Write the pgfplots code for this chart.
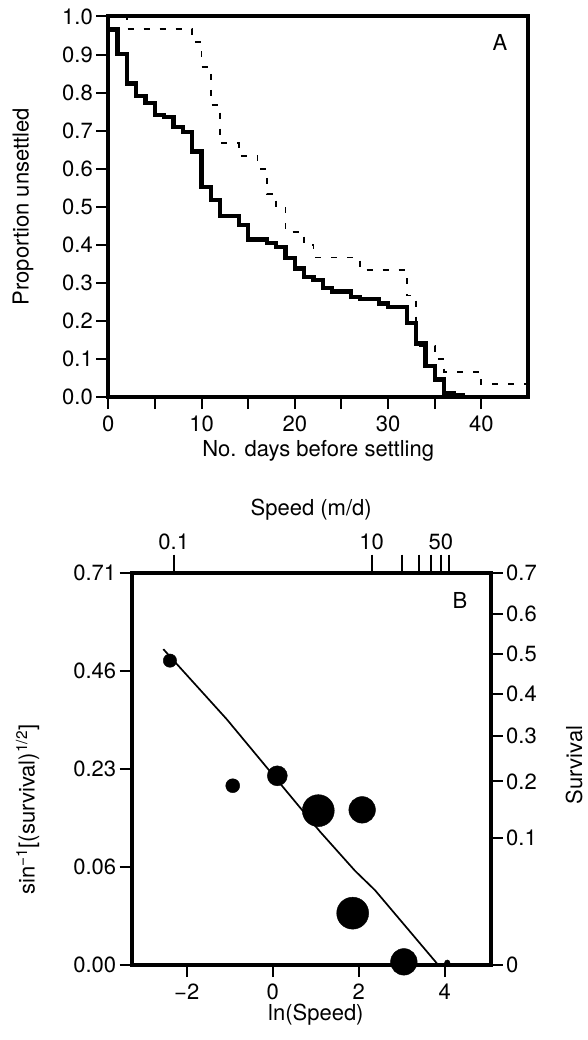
\documentclass[border=0pt]{standalone}
\usepackage{fontspec}
\setmainfont{TeX Gyre Heros}
\usepackage{pgfplots}
\pgfplotsset{compat=1.18}
\pgfplotsset{
  panel/.style={
    scale only axis,
    font=\fontsize{22}{26}\selectfont,
    tick label style={font=\fontsize{22}{26}\selectfont},
    label style={font=\fontsize{22}{26}\selectfont},
    axis line style={line width=4pt},
    tick style={line width=2pt, black},
    tick align=outside,
    major tick length=12pt,
  }
}
\begin{document}
\begin{tikzpicture}
\useasboundingbox (0pt,0pt) rectangle (588pt,-1040pt);
% ---------------- Panel A ----------------
\begin{axis}[panel,
  at={(108.3pt,-16.5pt)}, anchor=north west,
  width=419.7pt, height=380.5pt,
  xmin=0, xmax=45, ymin=0, ymax=1,
  xtick={0,5,10,15,20,25,30,35,40},
  xticklabels={0,,10,,20,,30,,40},
  ytick={0,0.1,0.2,0.3,0.4,0.5,0.6,0.7,0.8,0.9,1},
  yticklabels={0.0,0.1,0.2,0.3,0.4,0.5,0.6,0.7,0.8,0.9,1.0},
  xtick pos=left, ytick pos=left,
  xticklabel style={yshift=-3pt},
  xlabel={No. days before settling},
  ylabel={Proportion unsettled},
  xlabel style={at={(axis description cs:0.5,-0.142)}, anchor=center},
  ylabel style={at={(axis description cs:-0.203,0.5)}, anchor=center},
]
\addplot[const plot, black, line width=1.8pt, dash pattern=on 6pt off 10pt] coordinates {
(0,1) (2,0.9667) (9,0.9333) (10,0.8667) (11,0.7667) (12,0.6667) (14,0.6333)
(16,0.6) (17,0.5333) (18,0.5) (19,0.4333) (21,0.4) (22,0.3667) (27,0.3333)
(32,0.2667) (33,0.1333) (35,0.1) (36,0.0667) (40,0.0333) (45,0.0333)};
\addplot[const plot, black, line width=4.3pt] coordinates {
(0,0.966) (1,0.901) (2,0.824) (3,0.791) (4,0.772) (5,0.741) (6,0.735) (7,0.710)
(8,0.696) (9,0.645) (10,0.551) (11,0.518) (12,0.476) (14,0.452) (15,0.414)
(17,0.405) (18,0.395) (19,0.366) (20,0.338) (21,0.315) (22,0.307) (23,0.286)
(24,0.277) (26,0.262) (27,0.257) (29,0.246) (30,0.237) (32,0.194) (33,0.141)
(34,0.082) (35,0.046) (36,0.010) (37,0.004) (38,0)};
\node[font=\fontsize{22}{26}\selectfont] at (axis description cs:0.933,0.933) {A};
\end{axis}
% ---------------- Panel B (top & right axes) ----------------
\begin{axis}[panel,
  at={(131.7pt,-572.7pt)}, anchor=north west,
  width=359pt, height=392.3pt,
  xmin=-3.28, xmax=5.07, ymin=0, ymax=0.99116,
  xtick={-2.302585,2.302585,2.995732,3.401197,3.688879,3.912023,4.094345},
  xticklabels={0.1,10,,,,50,},
  ytick={0,0.32175,0.46365,0.57964,0.68472,0.78540,0.88608,0.99116},
  yticklabels={0,0.1,0.2,0.3,0.4,0.5,0.6,0.7},
  xtick pos=right, ytick pos=right,
  xticklabel pos=right, yticklabel pos=right,
  x tick style={line width=2pt, black, /pgfplots/major tick length=18pt},
  xticklabel style={yshift=7pt},
  xlabel={Speed (m/d)},
  ylabel={Survival},
  xlabel style={at={(axis description cs:0.5,1.16)}, anchor=center},
  ylabel style={at={(axis description cs:1.232,0.51)}, anchor=center},
]
\end{axis}
% ---------------- Panel B (main) ----------------
\begin{axis}[panel,
  at={(131.7pt,-572.7pt)}, anchor=north west,
  width=359pt, height=392.3pt,
  xmin=-3.28, xmax=5.07, ymin=0, ymax=0.99116,
  clip mode=individual,
  xtick={-2,0,2,4},
  xticklabels={−2,0,2,4},
  ytick={0,0.24779,0.49558,0.74337,0.99116},
  yticklabels={0.00,0.06,0.23,0.46,0.71},
  xtick pos=left, ytick pos=left,
  xticklabel style={yshift=-3pt},
  xlabel={ln(Speed)},
  ylabel={sin\textsuperscript{−1}[(survival)\textsuperscript{1/2}]},
  xlabel style={at={(axis description cs:0.513,-0.127)}, anchor=center},
  ylabel style={at={(axis description cs:-0.290,0.396)}, anchor=center},
]
\addplot[black, line width=1.7pt] coordinates {
(-2.544,0.798) (-1.07,0.621) (1.10,0.337) (1.914,0.238) (2.379,0.189) (3.85,0)};
\addplot[only marks, mark=*, black, scatter,
  scatter/use mapped color={draw=black, fill=black},
  visualization depends on={\thisrow{r}\as\rr},
  scatter/@pre marker code/.append style={/tikz/mark size=\rr}]
  table[x=x, y=y] {
x      y      r
-2.39  0.769  6.7
-0.93  0.453  7.0
0.107  0.478  10.0
1.06   0.390  16.0
2.08   0.392  13.3
1.86   0.131  16.0
3.05   0.008  13.3
4.06   0.006  2.7
};
\node[font=\fontsize{22}{26}\selectfont] at (axis description cs:0.9145,0.928) {B};
\end{axis}
\end{tikzpicture}
\end{document}
